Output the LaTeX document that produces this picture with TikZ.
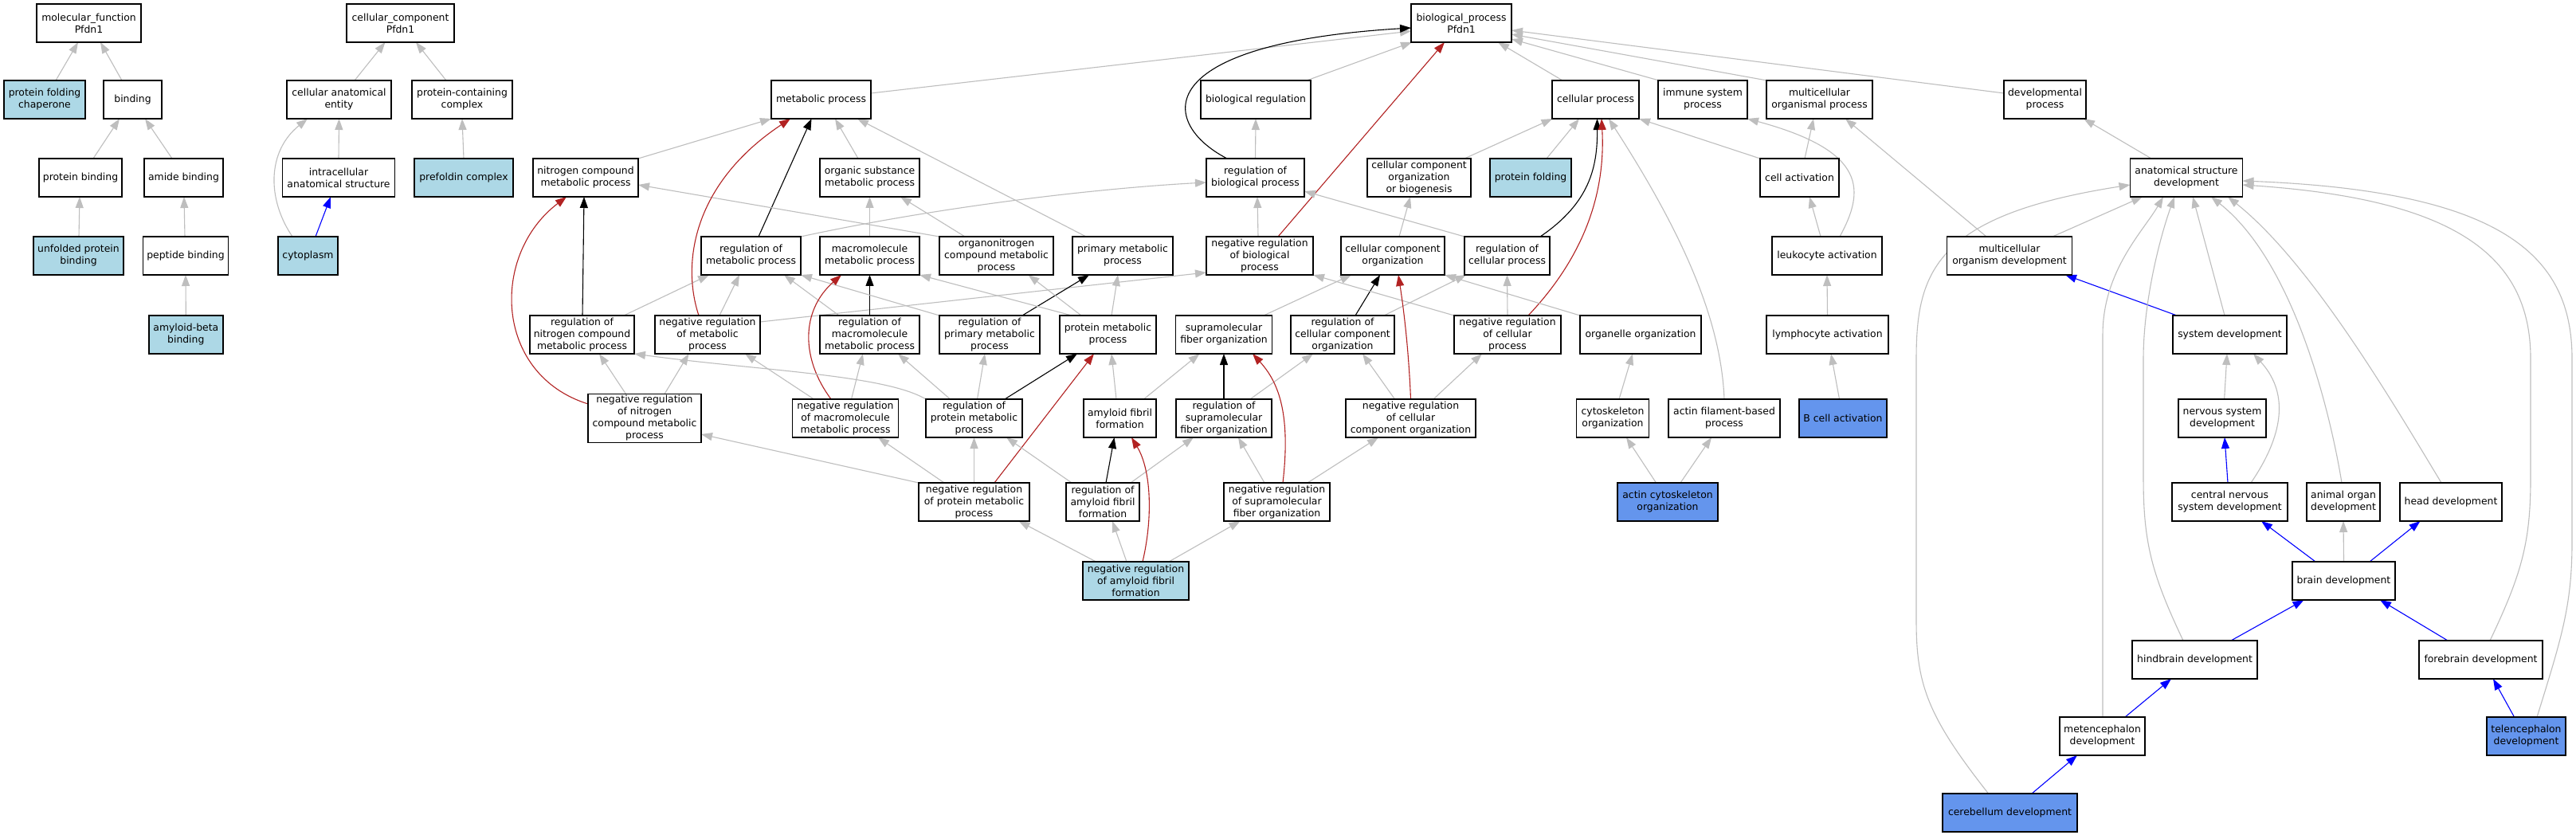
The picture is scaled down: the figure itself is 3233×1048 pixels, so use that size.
\documentclass[tikz,border=0pt]{standalone}
\usepackage{fontspec}
\setmainfont{DejaVu Sans}
\usetikzlibrary{arrows.meta,backgrounds}
\definecolor{edgegray}{RGB}{190,190,190}
\definecolor{negred}{RGB}{178,34,34}
\definecolor{lblue}{RGB}{173,216,230}
\definecolor{cblue}{RGB}{100,149,237}
\definecolor{partblue}{RGB}{0,0,255}
\tikzset{
 term/.style={draw=black, line width=1.6pt, fill=white, align=center, inner xsep=1pt, inner ysep=2pt, minimum height=48pt, outer sep=0pt, font=\fontsize{12.4}{15}\selectfont},
 seed/.style={term, fill=lblue},
 hit/.style={term, fill=cblue},
 isa/.style={draw=edgegray, line width=1.1pt, -{Triangle[length=14pt,width=10pt]}},
 regl/.style={isa, draw=black},
 negr/.style={isa, draw=negred},
 partof/.style={isa, draw=partblue},
}
\newcommand\gedge[5][isa]{\draw[#1] ([xshift=#3pt]#2.north) -- ([xshift=#5pt]#4.south);}
\begin{document}
\begin{tikzpicture}[x=1pt,y=-1pt]
\useasboundingbox (0,0) rectangle (3233,1048);
% ---- molecular function
\node[term,minimum width=131pt] (mf) at (111.5,29) {molecular\_function\\Pfdn1};
\node[seed,minimum width=102pt] (pfc) at (56,125) {protein folding\\chaperone};
\node[term,minimum width=73pt] (bind) at (166.5,125) {binding};
\node[term,minimum width=104pt] (pbind) at (101,223) {protein binding};
\node[term,minimum width=99pt] (abind) at (230.5,223) {amide binding};
\node[seed,minimum width=113pt] (upb) at (98.5,321) {unfolded protein\\binding};
\node[term,minimum width=107pt] (pepb) at (233,321) {peptide binding};
\node[seed,minimum width=93pt] (abb) at (233.3,420) {amyloid-beta\\binding};
% ---- cellular component
\node[term,minimum width=135pt] (cc) at (502.5,29) {cellular\_component\\Pfdn1};
\node[term,minimum width=131pt] (cae) at (425.5,125) {cellular anatomical\\entity};
\node[term,minimum width=126pt] (pcc) at (580,125) {protein-containing\\complex};
\node[term,minimum width=141pt] (ias) at (425,223) {intracellular\\anatomical structure};
\node[seed,minimum width=124pt] (pfdc) at (582,223) {prefoldin complex};
\node[seed,minimum width=75pt] (cyto) at (386.5,321) {cytoplasm};
% ---- biological process
\node[term,minimum width=126pt] (bp) at (1834,29) {biological\_process\\Pfdn1};
\node[term,minimum width=125pt] (mp) at (1030.5,125) {metabolic process};
\node[term,minimum width=138pt] (breg) at (1576,125) {biological regulation};
\node[term,minimum width=109pt] (cp) at (2002.5,125) {cellular process};
\node[term,minimum width=112pt] (isp) at (2137,125) {immune system\\process};
\node[term,minimum width=133pt] (mop) at (2283.5,125) {multicellular\\organismal process};
\node[term,minimum width=103pt] (dp) at (2566.5,125) {developmental\\process};
\node[term,minimum width=132pt] (ncmp) at (735,223) {nitrogen compound\\metabolic process};
\node[term,minimum width=125pt] (osmp) at (1091.5,223) {organic substance\\metabolic process};
\node[term,minimum width=123pt] (rbp) at (1575.5,223) {regulation of\\biological process};
\node[term,minimum width=130pt] (ccob) at (1781,223) {cellular component\\organization\\or biogenesis};
\node[seed,minimum width=102pt] (pf) at (1921,223) {protein folding};
\node[term,minimum width=99pt] (ca) at (2258.5,223) {cell activation};
\node[term,minimum width=141pt] (asd) at (2744,223) {anatomical structure\\development};
\node[term,minimum width=125pt] (rmp) at (942.5,321) {regulation of\\metabolic process};
\node[term,minimum width=125pt] (mmp) at (1091.5,321) {macromolecule\\metabolic process};
\node[term,minimum width=143pt] (onc) at (1250.5,321) {organonitrogen\\compound metabolic\\process};
\node[term,minimum width=126pt] (pmp) at (1409,321) {primary metabolic\\process};
\node[term,minimum width=134pt] (nrbp) at (1581,321) {negative regulation\\of biological\\process};
\node[term,minimum width=130pt] (cco) at (1748,321) {cellular component\\organization};
\node[term,minimum width=107pt] (rcp) at (1891.5,321) {regulation of\\cellular process};
\node[term,minimum width=138pt] (la) at (2293,321) {leukocyte activation};
\node[term,minimum width=157pt] (mod) at (2522,321) {multicellular\\organism development};
\node[term,minimum width=131pt] (rncmp) at (730.5,420) {regulation of\\nitrogen compound\\metabolic process};
\node[term,minimum width=132pt] (nrmp) at (888,420) {negative regulation\\of metabolic\\process};
\node[term,minimum width=125pt] (rmmp) at (1091.5,420) {regulation of\\macromolecule\\metabolic process};
\node[term,minimum width=126pt] (rpmp) at (1242,420) {regulation of\\primary metabolic\\process};
\node[term,minimum width=121pt] (protmp) at (1390.5,420) {protein metabolic\\process};
\node[term,minimum width=121pt] (sfo) at (1536,420) {supramolecular\\fiber organization};
\node[term,minimum width=130pt] (rcco) at (1685,420) {regulation of\\cellular component\\organization};
\node[term,minimum width=134pt] (nrcp) at (1892,420) {negative regulation\\of cellular\\process};
\node[term,minimum width=152pt] (oo) at (2059,420) {organelle organization};
\node[term,minimum width=153pt] (lya) at (2293.5,420) {lymphocyte activation};
\node[term,minimum width=143pt] (sd) at (2798.5,420) {system development};
\node[term,minimum width=142pt] (nrncmp) at (809,525) {negative regulation\\of nitrogen\\compound metabolic\\process};
\node[term,minimum width=133pt] (nrmmp) at (1061,525) {negative regulation\\of macromolecule\\metabolic process};
\node[term,minimum width=121pt] (rprotmp) at (1222.5,525) {regulation of\\protein metabolic\\process};
\node[term,minimum width=91pt] (aff) at (1405.5,525) {amyloid fibril\\formation};
\node[term,minimum width=120pt] (rsfo) at (1536,525) {regulation of\\supramolecular\\fiber organization};
\node[term,minimum width=163pt] (nrcco) at (1770.5,525) {negative regulation\\of cellular\\component organization};
\node[term,minimum width=91pt] (cso) at (2024,525) {cytoskeleton\\organization};
\node[term,minimum width=140pt] (afbp) at (2164,525) {actin filament-based\\process};
\node[hit,minimum width=110pt] (bca) at (2313,525) {B cell activation};
\node[term,minimum width=110pt] (nsd) at (2789,525) {nervous system\\development};
\node[term,minimum width=139pt] (nrpmp) at (1222.5,630) {negative regulation\\of protein metabolic\\process};
\node[term,minimum width=92pt] (raff) at (1384,630) {regulation of\\amyloid fibril\\formation};
\node[term,minimum width=133pt] (nrsfo) at (1602.5,630) {negative regulation\\of supramolecular\\fiber organization};
\node[hit,minimum width=126pt] (aco) at (2093,630) {actin cytoskeleton\\organization};
\node[term,minimum width=145pt] (cnsd) at (2798.5,630) {central nervous\\system development};
\node[term,minimum width=92pt] (aod) at (2941,630) {animal organ\\development};
\node[term,minimum width=128pt] (hd) at (3076,630) {head development};
\node[seed,minimum width=133pt] (nraff) at (1425.5,729) {negative regulation\\of amyloid fibril\\formation};
\node[term,minimum width=129pt] (bd) at (2941.5,729) {brain development};
\node[term,minimum width=157pt] (hbd) at (2754.5,828) {hindbrain development};
\node[term,minimum width=155pt] (fbd) at (3113.5,828) {forebrain development};
\node[term,minimum width=107pt] (med) at (2638.5,924) {metencephalon\\development};
\node[hit,minimum width=99pt] (ted) at (3170.5,924) {telencephalon\\development};
\node[hit,minimum width=169pt] (cbd) at (2522.5,1020) {cerebellum development};

\begin{scope}[on background layer]
\fill[white] (0,0) rectangle (3233,1048);
% MF
\gedge{pfc}{14}{mf}{-13.5}
\gedge{bind}{-13.5}{mf}{14.5}
\gedge{pbind}{16}{bind}{-16.5}
\gedge{abind}{-14.5}{bind}{15.5}
\gedge{upb}{0.5}{pbind}{-1}
\gedge{pepb}{-1}{abind}{0.5}
\gedge{abb}{0}{pepb}{0}
% CC
\gedge{cae}{19.5}{cc}{-19}
\gedge{pcc}{-20}{cc}{19.5}
\gedge{ias}{0}{cae}{0}
\draw[isa] ([xshift=-19.5pt]cyto.north) .. controls (335,250) and (335,190) .. ([xshift=-39.5pt]cae.south);
\gedge[partof]{cyto}{9.5}{ias}{-10}
\gedge{pfdc}{0}{pcc}{0}
% BP row 1
\draw[isa] ([yshift=8pt]mp.east) -- ([yshift=-10pt]bp.west);
\draw[regl] ([xshift=-35.5pt]rbp.north) .. controls (1455,155) and (1440,55) .. ([yshift=-6pt]bp.west);
\gedge{breg}{64}{bp}{-62}
\gedge[negr]{nrbp}{23}{bp}{-21}
\gedge{cp}{-41.5}{bp}{46}
\draw[isa] ([xshift=-55pt]isp.north) -- ([yshift=-20pt]bp.east);
\draw[isa] ([xshift=-66pt]mop.north) -- ([yshift=-14pt]bp.east);
\draw[isa] ([yshift=8pt]dp.west) -- ([yshift=-9pt]bp.east);
% row 2
\draw[isa] (ncmp.north east) -- (mp.south west);
\gedge{osmp}{-14.5}{mp}{17.5}
\gedge{rbp}{0}{breg}{0}
\gedge{ccob}{57}{cp}{-54}
\gedge{pf}{20}{cp}{-20.5}
\draw[isa] (ca.north west) -- (cp.south east);
\gedge{ca}{6.5}{mop}{-7.5}
\gedge{asd}{-44}{dp}{48.5}
% row 3
\gedge[regl]{rmp}{9.5}{mp}{-12}
\draw[isa] (rmp.north east) .. controls (1200,255) and (1400,235) .. ([yshift=-6pt]rbp.west);
\gedge{mmp}{0}{osmp}{0}
\draw[isa] (onc.north west) -- ([yshift=-9pt]ncmp.east);
\gedge{onc}{-39.5}{osmp}{38.5}
\gedge{pmp}{-46}{mp}{45.5}
\gedge{nrbp}{-2}{rbp}{2.5}
\gedge{cco}{8}{ccob}{-11}
\draw[regl] ([xshift=41.5pt]rcp.north) .. controls (1995,255) and (2005,210) .. ([xshift=2pt]cp.south);
\draw[isa] (rcp.north west) -- ([yshift=-17pt]rbp.east);
\gedge{la}{-8}{ca}{12.5}
\draw[isa] ([xshift=16pt]la.north) .. controls (2340,240) and (2345,190) .. (isp.south east);
\gedge{mod}{-29}{mop}{32.5}
\gedge{mod}{54}{asd}{-55}
% row 4
\gedge[regl]{rncmp}{0.5}{ncmp}{-2}
\gedge{rncmp}{52.5}{rmp}{-52.5}
\gedge{nrmp}{15}{rmp}{-14.5}
\draw[negr] ([xshift=-11pt]nrmp.north) .. controls (855,330) and (870,230) .. ([xshift=-38.5pt]mp.south);
\draw[isa] ([yshift=16pt]nrmp.east) -- ([yshift=-21pt]nrbp.west);
\gedge{rmmp}{-38.5}{rmp}{41.5}
\gedge[regl]{rmmp}{0}{mmp}{0}
\draw[isa] (rpmp.north west) -- (rmp.south east);
\gedge[regl]{rpmp}{41}{pmp}{-42}
\draw[isa] ([xshift=-45.5pt]protmp.north) -- (mmp.south east);
\gedge{protmp}{-33.5}{onc}{40}
\gedge{protmp}{4.5}{pmp}{-6}
\gedge{sfo}{50}{cco}{-52}
\gedge[regl]{rcco}{16}{cco}{-16}
\gedge{rcco}{52}{rcp}{-51.5}
\draw[isa] (nrcp.north west) -- (nrbp.south east);
\gedge{nrcp}{0}{rcp}{0}
\draw[negr] ([xshift=26pt]nrcp.north) .. controls (1990,320) and (2015,240) .. ([xshift=7.5pt]cp.south);
\draw[isa] (oo.north west) -- (cco.south east);
\gedge{lya}{0}{la}{0}
\gedge[partof]{sd}{-66.5}{mod}{70}
\gedge{sd}{-6.5}{asd}{8}
% row 5
\gedge{nrncmp}{-23.5}{rncmp}{21.5}
\gedge{nrncmp}{25}{nrmp}{-23.5}
\draw[negr] ([yshift=18pt]nrncmp.west) .. controls (620,470) and (615,320) .. ([xshift=-24pt]ncmp.south);
\gedge{nrmmp}{7.5}{rmmp}{-8.5}
\gedge{nrmmp}{-39.5}{nrmp}{47}
\draw[negr] ([xshift=-18pt]nrmmp.north) .. controls (1005,450) and (1005,390) .. ([xshift=-35.5pt]mmp.south);
\gedge{rprotmp}{-30}{rmmp}{35.5}
\gedge{rprotmp}{4}{rpmp}{-6}
\gedge[regl]{rprotmp}{38.5}{protmp}{-38.5}
\draw[isa] (rprotmp.north west) .. controls (1110,470) and (950,465) .. (rncmp.south east);
\gedge{aff}{-4.5}{protmp}{4.5}
\gedge{aff}{30}{sfo}{-30.5}
\gedge[regl]{rsfo}{0}{sfo}{0}
\gedge{rsfo}{33}{rcco}{-37}
\gedge{nrcco}{-20}{rcco}{25}
\gedge{nrcco}{28.5}{nrcp}{-32}
\draw[negr] (nrcco.north) .. controls (1768,440) and (1762,390) .. ([xshift=7pt]cco.south);
\gedge{cso}{8}{oo}{-10}
\draw[isa] (afbp.north) .. controls (2160,400) and (2110,290) .. ([xshift=16.5pt]cp.south);
\gedge{bca}{-4.5}{lya}{4.5}
\gedge{nsd}{2.6}{sd}{-3.5}
% row 6
\draw[isa] (nrpmp.north west) -- ([yshift=-20pt]nrncmp.east);
\gedge{nrpmp}{-37.5}{nrmmp}{41}
\gedge{nrpmp}{0}{rprotmp}{0}
\gedge[negr]{nrpmp}{25.5}{protmp}{-17.5}
\gedge{raff}{-39}{rprotmp}{40.5}
\gedge[regl]{raff}{4}{aff}{-7}
\gedge{raff}{35}{rsfo}{-38}
\gedge{nrsfo}{-15.5}{rsfo}{18}
\draw[negr] ([xshift=7.5pt]nrsfo.north) .. controls (1620,520) and (1605,480) .. ([xshift=36pt]sfo.south);
\gedge{nrsfo}{38.5}{nrcco}{-40.5}
\gedge{aco}{-14.5}{cso}{17}
\gedge{aco}{16}{afbp}{-16}
\gedge[partof]{cnsd}{-2.5}{nsd}{3}
\draw[isa] ([xshift=26.5pt]cnsd.north) .. controls (2870,540) and (2870,490) .. ([xshift=29.5pt]sd.south);
\draw[isa] ([xshift=-12pt]hd.north) .. controls (3000,500) and (2900,330) .. ([xshift=52pt]asd.south);
\draw[isa] ([xshift=-2pt]aod.north) .. controls (2925,520) and (2880,330) .. ([xshift=31pt]asd.south);
% row 7
\gedge{nraff}{-50}{nrpmp}{56}
\gedge{nraff}{-11.5}{raff}{12}
\draw[negr] ([xshift=8.5pt]nraff.north) .. controls (1447,650) and (1445,590) .. ([xshift=14.5pt]aff.south);
\gedge{nraff}{41.5}{nrsfo}{-46}
\gedge[partof]{bd}{-35.5}{cnsd}{39.5}
\gedge{bd}{0}{aod}{0}
\gedge[partof]{bd}{32.5}{hd}{-38.5}
% row 8-10
\gedge[partof]{hbd}{45.5}{bd}{-50}
\gedge[partof]{fbd}{-41.5}{bd}{45.5}
\draw[isa] ([xshift=-14.5pt]hbd.north) .. controls (2700,720) and (2690,680) .. (2690,600) -- (2690,450) .. controls (2690,380) and (2710,300) .. ([xshift=-15pt]asd.south);
\draw[isa] ([xshift=11.5pt]fbd.north) .. controls (3165,720) and (3176,680) .. (3176,600) -- (3176,450) .. controls (3176,320) and (3080,250) .. ([yshift=-9pt]asd.east);
\draw[isa] ([xshift=13.5pt]ted.north) .. controls (3215,800) and (3228,760) .. (3228,680) -- (3228,450) .. controls (3228,320) and (3140,240) .. ([yshift=-4pt]asd.east);
\draw[isa] ([xshift=0.5pt]med.north) -- (2639,420) .. controls (2639,340) and (2690,290) .. ([xshift=-29pt]asd.south);
\draw[isa] ([xshift=-27pt]cbd.north) .. controls (2420,900) and (2405,860) .. (2405,780) -- (2405,450) .. controls (2405,340) and (2430,270) .. ([yshift=-9pt]asd.west);
\gedge[partof]{med}{28.5}{hbd}{-29.5}
\gedge[partof]{ted}{-15}{fbd}{15.5}
\gedge[partof]{cbd}{27.5}{med}{-31.5}
\end{scope}
\end{tikzpicture}
\end{document}
